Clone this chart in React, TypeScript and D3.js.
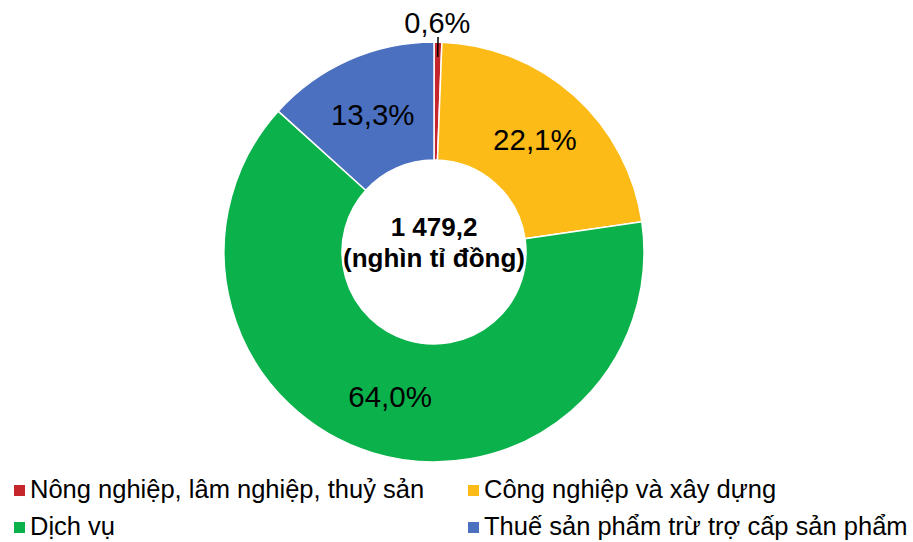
import React from "react";
import * as d3 from "d3";

const categories = [
  "Nông nghiệp, lâm nghiệp, thuỷ sản",
  "Công nghiệp và xây dựng",
  "Dịch vụ",
  "Thuế sản phẩm trừ trợ cấp sản phẩm",
];
const values = [0.6, 22.1, 64.0, 13.3];
const labels = ["0,6%", "22,1%", "64,0%", "13,3%"];
const colors = ["#C5262C", "#FCBB16", "#0BB14B", "#4A70BF"];
const centerLines = ["1 479,2", "(nghìn tỉ đồng)"];
// legend layout: order of grid cells (row-major, 2 columns)
const legendOrder = [0, 1, 2, 3];

const W = 913;
const H = 542;
const cx = 434;
const cy = 252;
const outerR = 210;
const innerR = 92;
const font = "'Liberation Sans', Arial, Helvetica, sans-serif";

export default function App() {
  const pie = d3
    .pie<number>()
    .sort(null)
    .value((d) => d)
    .startAngle(0)
    .endAngle(2 * Math.PI);
  const arcs = pie(values);
  const arc = d3.arc<d3.PieArcDatum<number>>().innerRadius(innerR).outerRadius(outerR);
  const labelArc = d3
    .arc<d3.PieArcDatum<number>>()
    .innerRadius(151)
    .outerRadius(151);

  const polar = (a: number, r: number) => [r * Math.sin(a), -r * Math.cos(a)];

  return (
    <svg
      width={W}
      height={H}
      style={{ position: "absolute", left: 0, top: 0, background: "#fff" }}
      fontFamily={font}
    >
      <g transform={`translate(${cx},${cy})`}>
        {arcs.map((a, i) => (
          <path key={i} d={arc(a) || ""} fill={colors[i]} stroke="#fff" strokeWidth={1.5} />
        ))}
        {arcs.map((a, i) => {
          if (i === 0) {
            const mid = (a.startAngle + a.endAngle) / 2;
            const [x1, y1] = polar(mid, 195);
            const [x2, y2] = polar(mid, 215);
            const [lx, ly] = polar(mid, 229);
            return (
              <g key={i}>
                <line x1={x1} y1={y1} x2={x2} y2={y2} stroke="#000" strokeWidth={1.5} />
                <text
                  x={lx - 1}
                  y={ly}
                  textAnchor="middle"
                  dominantBaseline="central"
                  fontSize={29}
                  fill="#000"
                >
                  {labels[i]}
                </text>
              </g>
            );
          }
          const [x, y] = labelArc.centroid(a);
          return (
            <text
              key={i}
              x={x}
              y={y}
              textAnchor="middle"
              dominantBaseline="central"
              fontSize={29.5}
              fill="#000"
            >
              {labels[i]}
            </text>
          );
        })}
        <text textAnchor="middle" fontSize={26} fontWeight="bold" fill="#000">
          <tspan x={0} y={-16}>
            {centerLines[0]}
          </tspan>
          <tspan x={0} y={15}>
            {centerLines[1]}
          </tspan>
        </text>
      </g>
      <g>
        {legendOrder.map((idx, k) => {
          const col = k % 2;
          const row = Math.floor(k / 2);
          const x0 = col === 0 ? 14 : 468;
          const base = 498 + row * 37;
          return (
            <g key={idx}>
              <rect x={x0} y={base - 13} width={11} height={11} fill={colors[idx]} />
              <text x={x0 + 16} y={base} fontSize={25.5} fill="#000">
                {categories[idx]}
              </text>
            </g>
          );
        })}
      </g>
    </svg>
  );
}
